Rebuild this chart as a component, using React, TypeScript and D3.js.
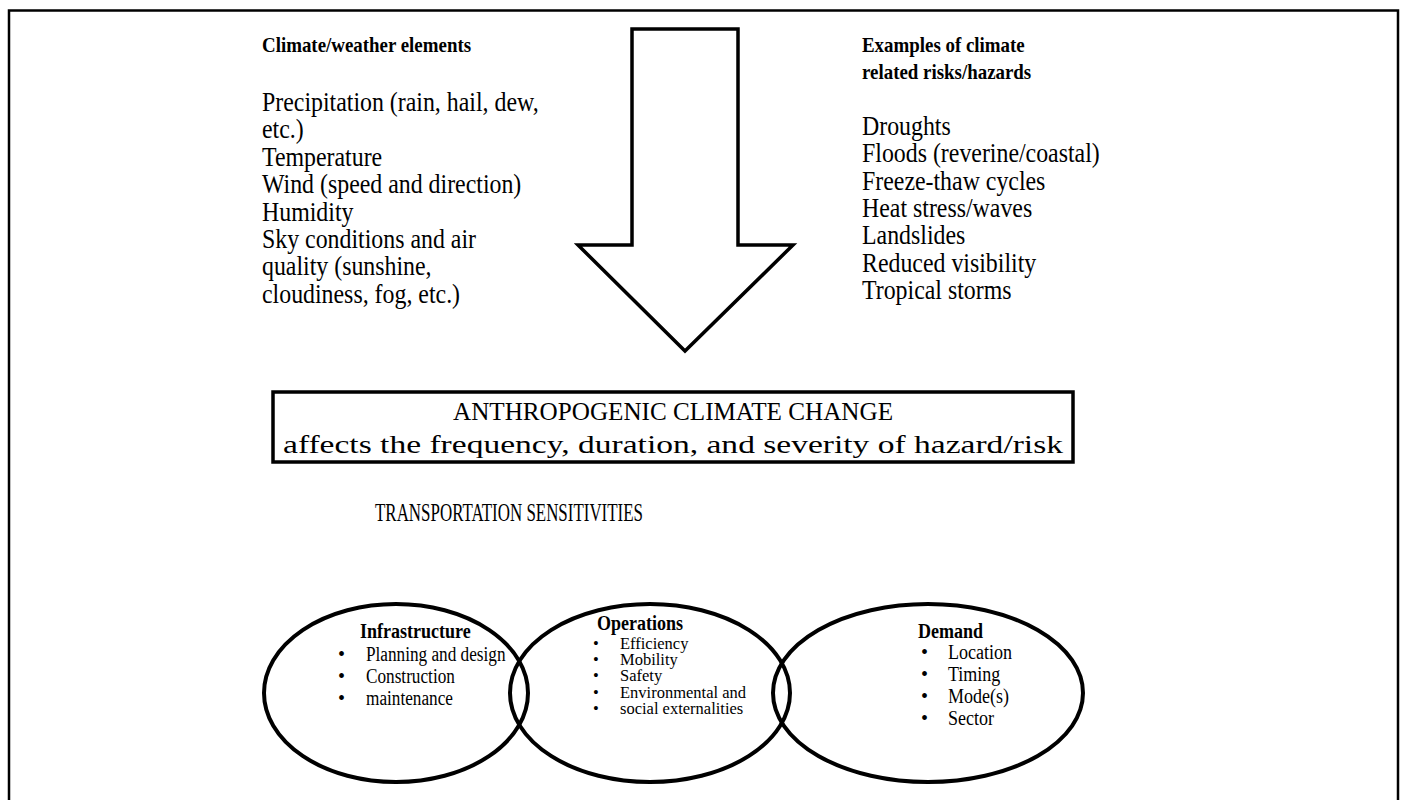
import * as d3 from 'd3';
import { useEffect, useRef } from 'react';

// texte du schéma
const weatherHeading = ['Climate/weather elements'];
const weatherElements = [
	'Precipitation (rain, hail, dew,',
	'etc.)',
	'Temperature',
	'Wind (speed and direction)',
	'Humidity',
	'Sky conditions and air',
	'quality (sunshine,',
	'cloudiness, fog, etc.)',
];
const hazardHeading = ['Examples of climate', 'related risks/hazards'];
const hazards = [
	'Droughts',
	'Floods (reverine/coastal)',
	'Freeze-thaw cycles',
	'Heat stress/waves',
	'Landslides',
	'Reduced visibility',
	'Tropical storms',
];
const changeLines = [
	'ANTHROPOGENIC CLIMATE CHANGE',
	'affects the frequency, duration, and severity of hazard/risk',
];
const sensitivityTitle = 'TRANSPORTATION SENSITIVITIES';
const sensitivities = ['Infrastructure', 'Operations', 'Demand'];
const infrastructureItems = ['Planning and design', 'Construction', 'maintenance'];
const operationsItems = ['Efficiency', 'Mobility', 'Safety', 'Environmental and', 'social externalities'];
const demandItems = ['Location', 'Timing', 'Mode(s)', 'Sector'];

const W = 1405;
const H = 800;
const FONT = '"Liberation Serif", "Times New Roman", serif';

export default function App() {
	const ref = useRef<SVGSVGElement>(null);

	useEffect(() => {
		document.body.style.margin = '0';
		const svg = d3.select(ref.current);
		svg.selectAll('*').remove();

		// cadre extérieur
		svg
			.append('rect')
			.attr('x', 9)
			.attr('y', 10.5)
			.attr('width', 1389)
			.attr('height', 820)
			.attr('fill', 'none')
			.attr('stroke', '#000')
			.attr('stroke-width', 2.5);

		// flèche
		const arrow = { left: 632, right: 738, top: 29, shoulder: 245, headL: 578, headR: 793, tipY: 351 };
		const cx = (arrow.left + arrow.right) / 2;
		const arrowPts: [number, number][] = [
			[arrow.left, arrow.top],
			[arrow.right, arrow.top],
			[arrow.right, arrow.shoulder],
			[arrow.headR, arrow.shoulder],
			[cx, arrow.tipY],
			[arrow.headL, arrow.shoulder],
			[arrow.left, arrow.shoulder],
		];
		svg
			.append('path')
			.attr('d', d3.line()(arrowPts) + 'Z')
			.attr('fill', '#fff')
			.attr('stroke', '#000')
			.attr('stroke-width', 3.5)
			.attr('stroke-linejoin', 'miter');

		// squeeze < 1 : texte condensé comme dans l'original
		const textBlock = (
			x: number,
			y0: number,
			step: number,
			lines: string[],
			size: number,
			opts: { weight?: string; anchor?: string; length?: number; squeeze?: number } = {}
		) => {
			const { weight = 'normal', anchor = 'start', length, squeeze } = opts;
			const t = svg
				.append('g')
				.selectAll('text')
				.data(lines)
				.enter()
				.append('text')
				.attr('x', x)
				.attr('y', (_, i) => y0 + i * step)
				.attr('font-family', FONT)
				.attr('font-size', size)
				.attr('font-weight', weight)
				.attr('text-anchor', anchor)
				.attr('fill', '#000')
				.text((d) => d);
			if (length) t.attr('textLength', length).attr('lengthAdjust', 'spacingAndGlyphs');
			else if (squeeze) {
				t.each(function () {
					const el = this as SVGTextElement;
					const len = el.getComputedTextLength();
					if (len > 0) {
						el.setAttribute('textLength', String(len * squeeze));
						el.setAttribute('lengthAdjust', 'spacingAndGlyphs');
					}
				});
			}
		};

		// colonnes du haut
		textBlock(262, 52, 27.3, weatherHeading, 21, { weight: 'bold', squeeze: 0.9 });
		textBlock(262, 111, 27.4, weatherElements, 26.5, { squeeze: 0.9 });
		textBlock(862, 52, 27.3, hazardHeading, 21, { weight: 'bold', squeeze: 0.9 });
		textBlock(862, 135, 27.3, hazards, 26.5, { squeeze: 0.9 });

		// boîte centrale
		const box = { x: 273, y: 392, w: 800, h: 70 };
		svg
			.append('rect')
			.attr('x', box.x)
			.attr('y', box.y)
			.attr('width', box.w)
			.attr('height', box.h)
			.attr('fill', '#fff')
			.attr('stroke', '#000')
			.attr('stroke-width', 3.5);
		textBlock(box.x + box.w / 2, 420, 0, [changeLines[0]], 25, { anchor: 'middle', length: 440 });
		textBlock(box.x + box.w / 2, 453, 0, [changeLines[1]], 26, { anchor: 'middle', length: 780 });

		textBlock(375, 521, 0, [sensitivityTitle], 25, { length: 268 });

		// ellipses
		const ellipses = [
			{ cx: 396, rx: 132, items: infrastructureItems, hx: 360, bx: 338, tx: 366, hy: 638, y0: 661, step: 22, size: 20, sq: 0.86 },
			{ cx: 650, rx: 140, items: operationsItems, hx: 597, bx: 593, tx: 620, hy: 630, y0: 649, step: 16.2, size: 16.5, sq: 1 },
			{ cx: 928, rx: 155, items: demandItems, hx: 918, bx: 921, tx: 948, hy: 638, y0: 659, step: 22, size: 20, sq: 0.9 },
		];
		const cy = 693;
		const ry = 89;
		svg
			.append('g')
			.selectAll('ellipse')
			.data(ellipses)
			.enter()
			.append('ellipse')
			.attr('cx', (d) => d.cx)
			.attr('cy', cy)
			.attr('rx', (d) => d.rx)
			.attr('ry', ry)
			.attr('fill', 'none')
			.attr('stroke', '#000')
			.attr('stroke-width', 4);

		ellipses.forEach((e, k) => {
			textBlock(e.hx, e.hy, 0, [sensitivities[k]], 20, { weight: 'bold', squeeze: 0.9 });
			textBlock(e.bx, e.y0, e.step, e.items.map(() => '•'), e.size);
			textBlock(e.tx, e.y0, e.step, e.items, e.size, { squeeze: e.sq });
		});
	}, []);

	return <svg ref={ref} width={W} height={H} style={{ display: 'block', background: '#fff' }}></svg>;
}
